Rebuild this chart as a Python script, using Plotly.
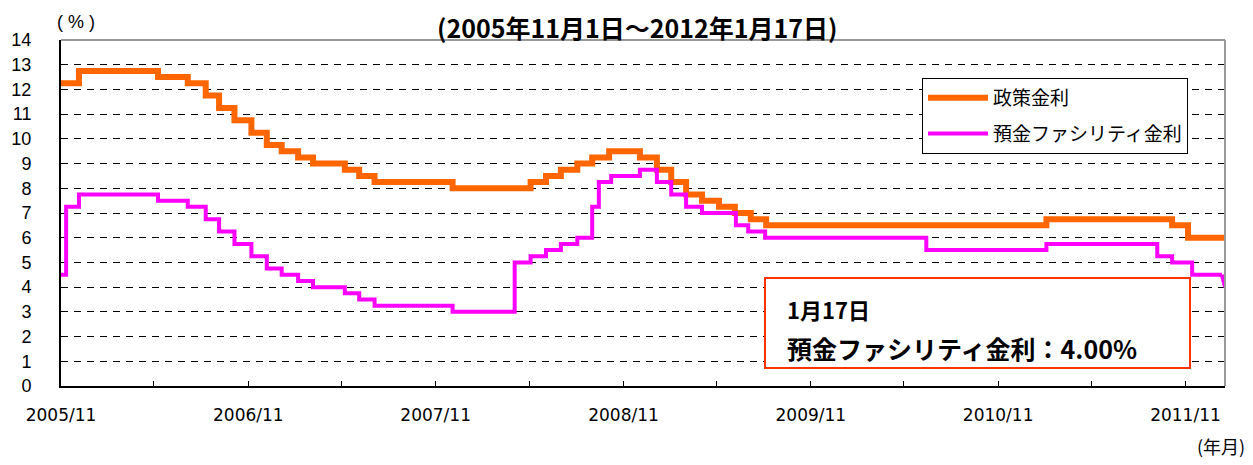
import plotly.graph_objects as go

# 政策金利 (policy rate) change dates and values
policy_dates = [
    "2005-11-01", "2005-12-06", "2006-05-09", "2006-07-06", "2006-08-10", "2006-09-05",
    "2006-10-05", "2006-11-07", "2006-12-07", "2007-01-05", "2007-02-06", "2007-03-07",
    "2007-05-08", "2007-06-05", "2007-07-05", "2007-12-04", "2008-05-04", "2008-06-03",
    "2008-07-02", "2008-08-03", "2008-09-01", "2008-10-04", "2008-12-03", "2009-01-05",
    "2009-02-02", "2009-03-03", "2009-04-03", "2009-05-06", "2009-06-06", "2009-07-07",
    "2009-08-06", "2011-02-03", "2011-10-06", "2011-11-06", "2012-01-17",
]
policy_rate = [
    12.25, 12.75, 12.50, 12.25, 11.75, 11.25,
    10.75, 10.25, 9.75, 9.50, 9.25, 9.00,
    8.75, 8.50, 8.25, 8.00, 8.25, 8.50,
    8.75, 9.00, 9.25, 9.50, 9.25, 8.75,
    8.25, 7.75, 7.50, 7.25, 7.00, 6.75,
    6.50, 6.75, 6.50, 6.00, 6.00,
]

# 預金ファシリティ金利 (deposit facility rate)
deposit_dates = [
    "2005-11-01", "2005-11-11", "2005-12-06", "2006-05-09", "2006-07-06", "2006-08-10",
    "2006-09-05", "2006-10-05", "2006-11-07", "2006-12-07", "2007-01-05", "2007-02-06",
    "2007-03-07", "2007-05-08", "2007-06-05", "2007-07-05", "2007-12-04", "2008-04-03",
    "2008-05-04", "2008-06-03", "2008-07-02", "2008-08-03", "2008-09-01", "2008-09-14",
    "2008-10-08", "2008-12-03", "2009-01-05", "2009-02-02", "2009-03-03", "2009-04-03",
    "2009-06-08", "2009-07-02", "2009-08-04", "2010-06-14", "2011-02-03", "2011-09-07",
    "2011-10-06", "2011-11-14", "2012-01-11", "2012-01-17",
]
deposit_rate = [
    4.50, 7.25, 7.75, 7.50, 7.25, 6.75,
    6.25, 5.75, 5.25, 4.75, 4.50, 4.25,
    4.00, 3.75, 3.50, 3.25, 3.00, 5.00,
    5.25, 5.50, 5.75, 6.00, 7.25, 8.25,
    8.50, 8.75, 8.25, 7.75, 7.25, 7.00,
    6.50, 6.25, 6.00, 5.50, 5.75, 5.25,
    5.00, 4.50, 4.50, 4.00,
]

x_tick_vals = ["2005-11-01", "2006-11-01", "2007-11-01", "2008-11-01",
               "2009-11-01", "2010-11-01", "2011-11-01"]
x_tick_text = ["2005/11", "2006/11", "2007/11", "2008/11", "2009/11", "2010/11", "2011/11"]
y_tick_vals = list(range(0, 15))

series_names = ["政策金利", "預金ファシリティ金利"]
title_text = "(2005年11月1日～2012年1月17日)"
note_date = "1月17日"
note_value = "預金ファシリティ金利：4.00%"
y_unit = "( % )"
x_unit = "(年月)"

ORANGE = "#FF6600"
MAGENTA = "#FF00FF"
JP = "Noto Sans CJK JP"
LAT = "Liberation Sans"

fig = go.Figure()
fig.add_trace(go.Scatter(
    x=policy_dates, y=policy_rate, mode="lines", name=series_names[0],
    line=dict(color=ORANGE, width=6, shape="hv"), legendgroup="a",
))
fig.add_trace(go.Scatter(
    x=deposit_dates[:-1], y=deposit_rate[:-1], mode="lines", name=series_names[1],
    line=dict(color=MAGENTA, width=4, shape="hv"), legendgroup="b",
))
# final slanted segment of the daily series
fig.add_trace(go.Scatter(
    x=deposit_dates[-2:], y=deposit_rate[-2:], mode="lines", showlegend=False,
    line=dict(color=MAGENTA, width=4), legendgroup="b",
))

fig.update_layout(
    width=1245, height=457,
    margin=dict(l=53, r=28, t=32, b=79, autoexpand=False),
    paper_bgcolor="white", plot_bgcolor="white",
    font=dict(family=LAT, size=16, color="black"),
    showlegend=True,
    legend=dict(
        x=(922 - 61) / 1164, y=(386 - 78) / 346, xanchor="left", yanchor="top",
        bordercolor="black", borderwidth=1, bgcolor="white",
        font=dict(family=JP, size=19, color="black"),
        traceorder="grouped", tracegroupgap=8, itemwidth=60,
    ),
    xaxis=dict(
        type="date", range=["2005-11-01", "2012-01-17"], automargin=False,
        tickmode="array", tickvals=x_tick_vals, ticktext=x_tick_text,
        ticks="inside", ticklen=5, tickwidth=1, tickcolor="black",
        showline=True, linecolor="black", linewidth=2,
        showgrid=False, zeroline=False,
        tickfont=dict(family="DejaVu Sans", size=17),
        ticklabelstandoff=13,
        minor=dict(dtick="M6", tick0="2005-11-01", ticks="inside", ticklen=5,
                   tickcolor="black", showgrid=False),
    ),
    yaxis=dict(
        range=[0, 14], tickmode="array", tickvals=y_tick_vals, automargin=False,
        ticks="outside", ticklen=24, tickcolor="rgba(0,0,0,0)",
        showline=True, linecolor="black", linewidth=2,
        showgrid=True, gridcolor="black", gridwidth=1, griddash="7px,6px",
        zeroline=False,
        tickfont=dict(family=LAT, size=18),
    ),
)

# top & right gray frame
fig.add_shape(type="line", xref="paper", yref="paper", x0=0, x1=1, y0=1, y1=1,
              line=dict(color="#999999", width=2))
fig.add_shape(type="line", xref="paper", yref="paper", x0=1, x1=1, y0=0, y1=1,
              line=dict(color="#999999", width=2))

# note box
fig.add_shape(type="rect", xref="paper", yref="paper",
              x0=(765 - 61) / 1164, x1=(1190 - 61) / 1164,
              y0=(386 - 368) / 346, y1=(386 - 278) / 346,
              line=dict(color="#FF3300", width=2), fillcolor="white", layer="above")
fig.add_annotation(xref="paper", yref="paper", x=(785 - 61) / 1164, y=(386 - 309) / 346,
                   xanchor="left", yanchor="middle", showarrow=False, text=f"<b>{note_date}</b>",
                   font=dict(family=JP, size=22, color="black"))
fig.add_annotation(xref="paper", yref="paper", x=(785 - 61) / 1164, y=(386 - 348) / 346,
                   xanchor="left", yanchor="middle", showarrow=False, text=f"<b>{note_value}</b>",
                   font=dict(family=JP, size=25, color="black"))

# title
fig.add_annotation(xref="paper", yref="paper", x=(637 - 61) / 1164, y=1 + 33 / 346,
                   xanchor="center", yanchor="top", showarrow=False, text=f"<b>{title_text}</b>",
                   font=dict(family=JP, size=25, color="black"))
# units
fig.add_annotation(xref="paper", yref="paper", x=(76 - 61) / 1164, y=(386 - 22) / 346,
                   xanchor="center", yanchor="middle", showarrow=False, text=y_unit,
                   font=dict(family=LAT, size=18, color="black"))
fig.add_annotation(xref="paper", yref="paper", x=(1247 - 61) / 1164, y=(386 - 446) / 346,
                   xanchor="right", yanchor="middle", showarrow=False, text=x_unit,
                   font=dict(family=JP, size=18, color="black"))

fig.write_html("out.html")
